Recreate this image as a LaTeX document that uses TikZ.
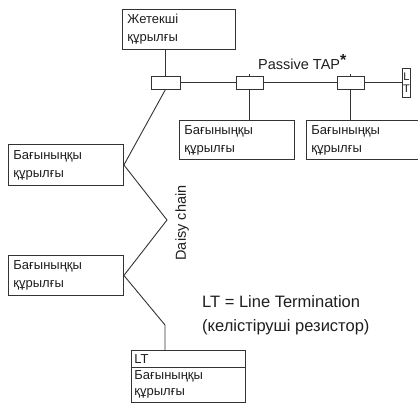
\documentclass[tikz,border=0pt]{standalone}
\usepackage{fontspec}
\setmainfont{Liberation Sans}
\begin{document}
\begin{tikzpicture}[x=1pt,y=-1pt,
  box/.style={draw=linecolor,line width=0.9pt,anchor=north west,inner xsep=5pt,inner ysep=0pt,align=left,text=textcolor,font=\fontsize{13}{18}\selectfont},
  tapbox/.style={draw=linecolor,line width=0.9pt,minimum height=13pt,inner sep=0pt},
  wire/.style={linecolor,line width=0.9pt},
  label/.style={text=textcolor,inner sep=0pt,font=\fontsize{14.5}{18}\selectfont}]
\definecolor{linecolor}{HTML}{333333}
\definecolor{textcolor}{HTML}{1E1E1E}
\clip (0,0) rectangle (418,407);
\node[box,text width=103pt,minimum height=40pt] (master) at (122,9) {Жетекші\\құрылғы};
\node[tapbox,minimum width=29pt] (tapA) at (165.5,82.5) {};
\node[tapbox,minimum width=27pt] (tapB) at (249.5,82.5) {};
\node[tapbox,minimum width=27pt] (tapC) at (350.5,82.5) {};
\node[draw=linecolor,line width=0.9pt,minimum width=7pt,minimum height=29pt,inner sep=0.3pt,align=center,text=textcolor,font=\fontsize{11}{12}\selectfont] (ltend) at (406.5,82.5) {L\\T};
\node[box,text width=105pt,minimum height=39pt] (slaveB) at (179,120) {Бағыныңқы\\құрылғы};
\node[box,text width=105pt,minimum height=39pt] (slaveC) at (306,120) {Бағыныңқы\\құрылғы};
\node[box,text width=105pt,minimum height=41pt] (chainA) at (8,144) {Бағыныңқы\\құрылғы};
\node[box,text width=105pt,minimum height=40pt] (chainB) at (8,255) {Бағыныңқы\\құрылғы};
\node[box,text width=108pt,minimum height=17pt,inner xsep=3pt] (ltrow) at (131,350) {LT};
\node[box,text width=108pt,inner xsep=3pt,inner ysep=3.5pt,font=\fontsize{13}{16}\selectfont] (chainC) at (131,367) {Бағыныңқы\\құрылғы\\[18pt]};
\coordinate (chainbend) at (167,220);
\coordinate (lowbend) at (165,325);
\node[label,anchor=west] (taplabel) at (258,62) {Passive TAP\raisebox{4.5pt}{\fontsize{16}{18}\selectfont\bfseries *}};
\node[label,rotate=90] (chainlabel) at (182,223) {Daisy chain};
\node[label,anchor=west,align=left,font=\fontsize{16.5}{24}\selectfont] (ltnote) at (202,315) {LT = Line Termination\\(келістіруші резистор)};
\draw[wire] (master.south -| tapA.north) -- (tapA.north);
\draw[wire] (tapA.east) -- (tapB.west) (tapB.east) -- (tapC.west) (tapC.east) -- (ltend.west);
\draw[wire] (tapB.south) -- (tapB.south |- slaveB.north);
\draw[wire] (tapC.south) -- (tapC.south |- slaveC.north);
\draw[wire] (tapB.north) -- ++(0,-1.5);
\draw[wire] (tapC.north) -- ++(0,-1.5);
\draw[wire] (tapA.south) -- (chainA.east);
\draw[wire] (chainA.east) -- (chainbend) -- (chainB.east);
\draw[wire] (chainB.east) -- (lowbend) -- (lowbend |- ltrow.north);
\end{tikzpicture}
\end{document}
